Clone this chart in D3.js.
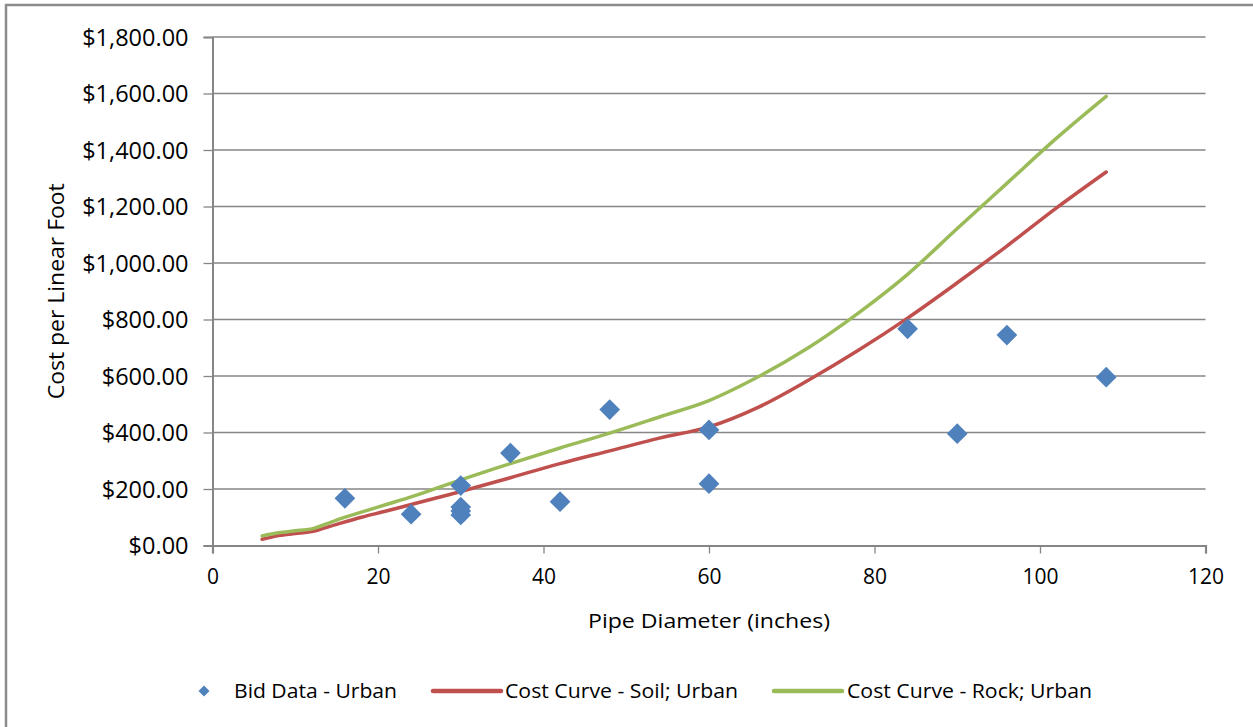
<!DOCTYPE html>
<html><head><meta charset="utf-8">
<script src="https://cdn.jsdelivr.net/npm/d3@7"></script>
<style>
html,body{margin:0;padding:0;background:#fff;}
svg text{font-family:"Open Sans","Noto Sans",sans-serif;fill:#000;}
</style></head>
<body><svg id="c" width="1253" height="727"></svg>
<script>
// Bid data (scatter)
const bidDiameter = [16, 24, 30, 30, 30, 30, 36, 42, 48, 60, 60, 84, 90, 96, 108];
const bidCost     = [167, 111, 212, 136, 122, 108, 327, 155, 481, 409, 219, 767, 396, 745, 596];
// Cost curves
const curveDiameter = [6, 8, 10, 12, 15, 18, 21, 24, 27, 30, 36, 42, 48, 54, 60, 66, 72, 78, 84, 90, 96, 102, 108];
const soilCost = [22, 35, 42, 49, 75, 100, 122, 145, 168, 191, 240, 290, 335, 380, 420, 490, 585, 690, 805, 930, 1060, 1195, 1322];
const rockCost = [34, 45, 52, 59, 90, 118, 145, 172, 202, 232, 290, 345, 398, 455, 513, 598, 700, 822, 960, 1122, 1282, 1442, 1590];
const xTicks = [0, 20, 40, 60, 80, 100, 120];
const yTicks = [0, 200, 400, 600, 800, 1000, 1200, 1400, 1600, 1800];
const seriesNames = ["Bid Data - Urban", "Cost Curve - Soil; Urban", "Cost Curve - Rock; Urban"];
const colors = ["#4F81BD", "#C0504D", "#9BBB59"];

const svg = d3.select("#c");
const grid = "#868686";

// outer frame
svg.append("rect").attr("x", 6).attr("y", 5).attr("width", 1260).attr("height", 740)
  .attr("fill", "none").attr("stroke", "#8c8c8c").attr("stroke-width", 2.5);

const x = d3.scaleLinear().domain([0, 120]).range([212.5, 1205.5]);
const y = d3.scaleLinear().domain([0, 1800]).range([545.5, 37]);

// gridlines
svg.append("g").selectAll("line").data(yTicks.filter(d => d > 0)).join("line")
  .attr("x1", x(0)).attr("x2", x(120)).attr("y1", d => y(d)).attr("y2", d => y(d))
  .attr("stroke", grid).attr("stroke-width", 1.3);

// y axis
const yAxis = svg.append("g").attr("transform", `translate(${x(0)},0)`)
  .call(d3.axisLeft(y).tickValues(yTicks).tickSize(9).tickPadding(15)
    .tickFormat(d => "$" + d3.format(",.2f")(d)));
yAxis.select(".domain").attr("stroke", grid).attr("stroke-width", 2);
yAxis.selectAll(".tick line").attr("stroke", grid).attr("stroke-width", 1.3);
yAxis.selectAll("text").attr("font-size", 23.5).attr("dy", "0.36em").attr("fill", "#000");

// x axis
const xAxis = svg.append("g").attr("transform", `translate(0,${y(0)})`)
  .call(d3.axisBottom(x).tickValues(xTicks).tickSize(8).tickPadding(16));
xAxis.select(".domain").attr("stroke", grid).attr("stroke-width", 2.2);
xAxis.selectAll(".tick line").attr("stroke", grid).attr("stroke-width", 1.3);
xAxis.selectAll("text").attr("font-size", 21).attr("fill", "#000");

// axis titles
svg.append("text").attr("x", (x(0) + x(120)) / 2).attr("y", 628).attr("text-anchor", "middle")
  .attr("font-size", 20).attr("textLength", 242).attr("lengthAdjust", "spacingAndGlyphs")
  .text("Pipe Diameter (inches)");
svg.append("text").attr("transform", `translate(64,${(y(0) + y(1800)) / 2}) rotate(-90)`)
  .attr("text-anchor", "middle").attr("font-size", 21).attr("textLength", 216)
  .attr("lengthAdjust", "spacingAndGlyphs").text("Cost per Linear Foot");

// lines
const line = (vals) => d3.line().curve(d3.curveCatmullRom.alpha(0.5))
  .x((d, i) => x(curveDiameter[i])).y(d => y(d))(vals);
svg.append("path").attr("d", line(soilCost)).attr("fill", "none")
  .attr("stroke", colors[1]).attr("stroke-width", 3.5).attr("stroke-linecap", "round");
svg.append("path").attr("d", line(rockCost)).attr("fill", "none")
  .attr("stroke", colors[2]).attr("stroke-width", 3.5).attr("stroke-linecap", "round");

// points
const diamond = d3.symbol().type(d3.symbolSquare).size(215);
svg.append("g").selectAll("path").data(bidCost).join("path")
  .attr("d", diamond)
  .attr("transform", (d, i) => `translate(${x(bidDiameter[i])},${y(d)}) rotate(45)`)
  .attr("fill", colors[0]);

// legend
const ly = 691;
svg.append("path").attr("d", d3.symbol().type(d3.symbolSquare).size(60))
  .attr("transform", `translate(204,${ly}) rotate(45)`).attr("fill", colors[0]);
svg.append("text").attr("x", 234).attr("y", ly).attr("dy", "0.35em").attr("font-size", 20)
  .attr("textLength", 163).attr("lengthAdjust", "spacingAndGlyphs").text(seriesNames[0]);
svg.append("line").attr("x1", 433).attr("x2", 501).attr("y1", ly).attr("y2", ly)
  .attr("stroke", colors[1]).attr("stroke-width", 4.5).attr("stroke-linecap", "round");
svg.append("text").attr("x", 505).attr("y", ly).attr("dy", "0.35em").attr("font-size", 20)
  .attr("textLength", 233).attr("lengthAdjust", "spacingAndGlyphs").text(seriesNames[1]);
svg.append("line").attr("x1", 774).attr("x2", 842).attr("y1", ly).attr("y2", ly)
  .attr("stroke", colors[2]).attr("stroke-width", 4.5).attr("stroke-linecap", "round");
svg.append("text").attr("x", 847).attr("y", ly).attr("dy", "0.35em").attr("font-size", 20)
  .attr("textLength", 245).attr("lengthAdjust", "spacingAndGlyphs").text(seriesNames[2]);
</script></body></html>
